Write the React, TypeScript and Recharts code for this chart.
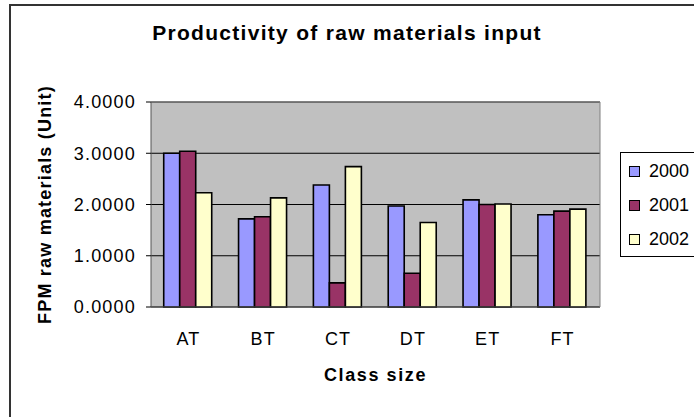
import { BarChart, Bar, XAxis, YAxis, CartesianGrid } from "recharts";

const CLASSES = ["AT", "BT", "CT", "DT", "ET", "FT"];
const SERIES = ["2000", "2001", "2002"];
const V2000 = [3.0, 1.72, 2.38, 1.97, 2.09, 1.8];
const V2001 = [3.04, 1.76, 0.47, 0.66, 2.0, 1.87];
const V2002 = [2.23, 2.13, 2.74, 1.65, 2.01, 1.91];
const COLORS = ["#9999FF", "#993366", "#FFFFCC"];
const Y_TICKS = [0, 1, 2, 3, 4];
const EDGE_TICKS = [0, 1, 2, 3, 4, 5, 6];

const FONT = "'Liberation Sans', Arial, sans-serif";

const data = CLASSES.map((name, i) => ({
  name,
  [SERIES[0]]: V2000[i],
  [SERIES[1]]: V2001[i],
  [SERIES[2]]: V2002[i],
}));

const tickStyle = { fontSize: 18, fill: "#000", fontFamily: FONT, letterSpacing: 1.2 };

function YTitle({ viewBox }: any) {
  const cx = viewBox.x + 36;
  const cy = viewBox.y + viewBox.height / 2;
  return (
    <text
      x={cx}
      y={cy}
      transform={`rotate(-90 ${cx} ${cy})`}
      textAnchor="middle"
      dominantBaseline="central"
      fontFamily={FONT}
      fontWeight="bold"
      fontSize={18}
      letterSpacing={1.2}
      fill="#000"
    >
      FPM raw materials (Unit)
    </text>
  );
}

function XTitle({ viewBox }: any) {
  return (
    <text
      x={viewBox.x + viewBox.width / 2}
      y={viewBox.y + 73}
      textAnchor="middle"
      fontFamily={FONT}
      fontWeight="bold"
      fontSize={18}
      letterSpacing={1.6}
      fill="#000"
    >
      Class size
    </text>
  );
}

export default function App() {
  return (
    <div
      style={{
        position: "absolute",
        left: 0,
        top: 0,
        width: 694,
        height: 417,
        overflow: "hidden",
        background: "#fff",
        fontFamily: FONT,
      }}
    >
      <div
        style={{
          position: "absolute",
          left: 9,
          top: 4,
          width: 800,
          height: 500,
          borderLeft: "2px solid #333",
          borderTop: "2px solid #333",
        }}
      />
      <div
        style={{
          position: "absolute",
          left: 0,
          top: 22,
          width: 694,
          textAlign: "center",
          fontSize: 21,
          lineHeight: "21px",
          fontWeight: "bold",
          letterSpacing: 1.3,
        }}
      >
        Productivity of raw materials input
      </div>
      <div style={{ position: "absolute", left: 0, top: 0 }}>
        <BarChart
          width={694}
          height={417}
          data={data}
          margin={{ top: 101, right: 93, left: 9, bottom: 49 }}
          barCategoryGap="17%"
          barGap={0}
        >
          <CartesianGrid
            xAxisId="cat"
            vertical={false}
            stroke="#000"
            fill="#C0C0C0"
            fillOpacity={1}
          />
          <XAxis
            xAxisId="a_edges"
            type="number"
            domain={[0, 6]}
            ticks={EDGE_TICKS}
            allowDataOverflow
            height={1}
            tick={false}
            tickSize={5}
            tickLine={{ stroke: "#000" }}
            axisLine={{ stroke: "#555" }}
          />
          <XAxis
            xAxisId="cat"
            dataKey="name"
            height={60}
            tickLine={false}
            axisLine={false}
            tickSize={0}
            tickMargin={24}
            tick={tickStyle}
            label={{ content: XTitle }}
          />
          <XAxis
            xAxisId="top"
            orientation="top"
            type="number"
            domain={[0, 6]}
            allowDataOverflow
            height={1}
            tick={false}
            tickLine={false}
            axisLine={{ stroke: "#808080" }}
          />
          <YAxis
            domain={[0, 4]}
            ticks={Y_TICKS}
            width={142}
            tickFormatter={(v: number) => v.toFixed(4)}
            tickSize={5}
            tickMargin={10}
            tick={tickStyle}
            tickLine={{ stroke: "#000" }}
            axisLine={{ stroke: "#555" }}
            label={{ content: YTitle }}
          />
          <YAxis
            yAxisId="right"
            orientation="right"
            domain={[0, 4]}
            width={1}
            tick={false}
            tickLine={false}
            axisLine={{ stroke: "#808080" }}
          />
          {SERIES.map((s, i) => (
            <Bar
              key={s}
              xAxisId="cat"
              dataKey={s}
              fill={COLORS[i]}
              stroke="#000"
              strokeWidth={1.6}
              isAnimationActive={false}
            />
          ))}
        </BarChart>
      </div>
      <div
        style={{
          position: "absolute",
          left: 620,
          top: 152,
          width: 100,
          height: 105,
          border: "1px solid #000",
          boxSizing: "border-box",
          paddingTop: 1,
        }}
      >
        {SERIES.map((s, i) => (
          <div
            key={s}
            style={{ height: 34, display: "flex", alignItems: "center", fontSize: 18 }}
          >
            <span
              style={{
                display: "inline-block",
                width: 9,
                height: 9,
                marginLeft: 8,
                marginRight: 9,
                background: COLORS[i],
                border: "1.5px solid #000",
              }}
            />
            <span>{s}</span>
          </div>
        ))}
      </div>
    </div>
  );
}
